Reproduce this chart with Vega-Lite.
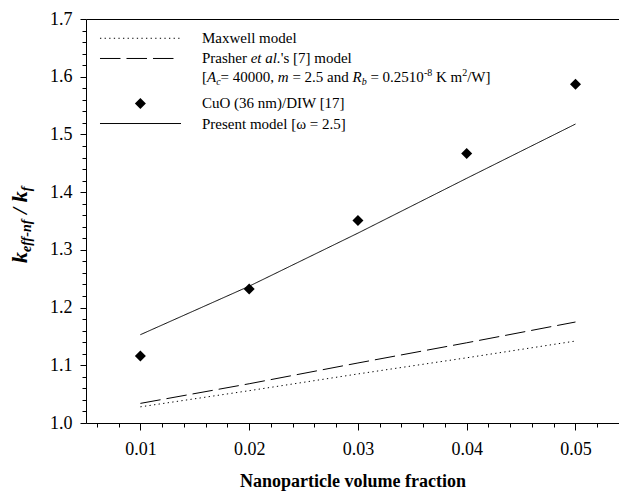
{
  "$schema": "https://vega.github.io/schema/vega-lite/v6.json",
  "width": 533,
  "height": 404,
  "autosize": "none",
  "padding": {"left": 86, "top": 19, "right": 0, "bottom": 70},
  "background": "white",
  "config": {
    "view": {"stroke": null},
    "axis": {
      "labelFont": "Liberation Serif",
      "titleFont": "Liberation Serif",
      "labelColor": "black",
      "titleColor": "black",
      "domainColor": "black",
      "tickColor": "black",
      "domainWidth": 1,
      "tickWidth": 1,
      "grid": false,
      "labelFlush": false,
      "labelOverlap": false
    },
    "text": {"font": "Liberation Serif", "color": "black"}
  },
  "datasets": {
    "curves": [
      {"model": "Maxwell", "x": 0.01, "y": 1.028},
      {"model": "Maxwell", "x": 0.02, "y": 1.056},
      {"model": "Maxwell", "x": 0.03, "y": 1.085},
      {"model": "Maxwell", "x": 0.04, "y": 1.113},
      {"model": "Maxwell", "x": 0.05, "y": 1.142},
      {"model": "Prasher", "x": 0.01, "y": 1.034},
      {"model": "Prasher", "x": 0.02, "y": 1.068},
      {"model": "Prasher", "x": 0.03, "y": 1.104},
      {"model": "Prasher", "x": 0.04, "y": 1.139},
      {"model": "Prasher", "x": 0.05, "y": 1.175},
      {"model": "Present", "x": 0.01, "y": 1.153},
      {"model": "Present", "x": 0.02, "y": 1.237},
      {"model": "Present", "x": 0.03, "y": 1.329},
      {"model": "Present", "x": 0.04, "y": 1.424},
      {"model": "Present", "x": 0.05, "y": 1.518}
    ],
    "points": [
      {"x": 0.01, "y": 1.116},
      {"x": 0.02, "y": 1.232},
      {"x": 0.03, "y": 1.351},
      {"x": 0.04, "y": 1.467},
      {"x": 0.05, "y": 1.587}
    ],
    "legendLines": [
      {"model": "Maxwell", "x": 0.006287, "y": 1.6666},
      {"model": "Maxwell", "x": 0.013734, "y": 1.6666},
      {"model": "Prasher", "x": 0.006287, "y": 1.6316},
      {"model": "Prasher", "x": 0.013182, "y": 1.6316},
      {"model": "Present", "x": 0.006287, "y": 1.5189},
      {"model": "Present", "x": 0.013734, "y": 1.5189}
    ],
    "legendPoint": [
      {"x": 0.01, "y": 1.5536}
    ],
    "textNormal": [
      {"t": "Maxwell model", "x": 0.015664, "y": 1.6666},
      {"t": "Prasher", "x": 0.015664, "y": 1.6316},
      {"t": "'s [7] model", "x": 0.022899, "y": 1.6316},
      {"t": "[", "x": 0.015664, "y": 1.5995},
      {"t": "= 40000,", "x": 0.017374, "y": 1.5995},
      {"t": "= 2.5 and", "x": 0.023975, "y": 1.5995},
      {"t": "= 0.2510", "x": 0.031146, "y": 1.5995},
      {"t": "K m", "x": 0.037176, "y": 1.5995},
      {"t": "/W]", "x": 0.040044, "y": 1.5995},
      {"t": "CuO (36 nm)/DIW [17]", "x": 0.015664, "y": 1.5536},
      {"t": "Present model [ω = 2.5]", "x": 0.015664, "y": 1.5189}
    ],
    "textItalic": [
      {"t": "et al.", "x": 0.020139, "y": 1.6316},
      {"t": "A", "x": 0.016124, "y": 1.5995},
      {"t": "m", "x": 0.022633, "y": 1.5995},
      {"t": "R", "x": 0.0295, "y": 1.5995}
    ],
    "textSub": [
      {"t": "c", "x": 0.01697, "y": 1.5995},
      {"t": "b", "x": 0.030346, "y": 1.5995}
    ],
    "textSup": [
      {"t": "-8", "x": 0.036064, "y": 1.5995},
      {"t": "2", "x": 0.039585, "y": 1.5995}
    ],
    "ytitleMain": [
      {"t": "k", "x": -0.000424, "y": 1.27723},
      {"t": "/", "x": -0.000424, "y": 1.3623},
      {"t": "k", "x": -0.000424, "y": 1.3824}
    ],
    "ytitleSub": [
      {"t": "eff-nf", "x": -0.000424, "y": 1.29629},
      {"t": "f", "x": -0.000424, "y": 1.40146}
    ]
  },
  "resolve": {"axis": {"x": "independent", "y": "independent"}},
  "layer": [
    {
      "data": {"name": "curves"},
      "mark": {"type": "line", "color": "black", "strokeWidth": 1},
      "encoding": {
        "x": {
          "field": "x", "type": "quantitative",
          "scale": {"domain": [0.005, 0.054], "nice": false, "zero": false},
          "axis": {
            "orient": "bottom",
            "values": [0.006, 0.008, 0.01, 0.012, 0.014, 0.016, 0.018, 0.02, 0.022, 0.024, 0.026, 0.028, 0.03, 0.032, 0.034, 0.036, 0.038, 0.04, 0.042, 0.044, 0.046, 0.048, 0.05, 0.052, 0.054],
            "tickCount": 200,
            "labelOverlap": false,
            "labelExpr": "abs(datum.value*100 - round(datum.value*100)) < 0.000001 ? format(datum.value, '.2f') : ''",
            "tickSize": {"condition": {"test": "abs(datum.value*100 - round(datum.value*100)) < 0.000001", "value": 7}, "value": 4},
            "labelPadding": 10,
            "labelFontSize": 18,
            "title": "Nanoparticle volume fraction",
            "titleFontSize": 18,
            "titleFontWeight": "bold",
            "titlePadding": 14
          }
        },
        "y": {
          "field": "y", "type": "quantitative",
          "scale": {"domain": [1.0, 1.7], "nice": false, "zero": false},
          "axis": {
            "orient": "left",
            "values": [1.0, 1.02, 1.04, 1.06, 1.08, 1.1, 1.12, 1.14, 1.16, 1.18, 1.2, 1.22, 1.24, 1.26, 1.28, 1.3, 1.32, 1.34, 1.36, 1.38, 1.4, 1.42, 1.44, 1.46, 1.48, 1.5, 1.52, 1.54, 1.56, 1.58, 1.6, 1.62, 1.64, 1.66, 1.68, 1.7],
            "tickCount": 200,
            "labelOverlap": false,
            "labelExpr": "abs(datum.value*10 - round(datum.value*10)) < 0.000001 ? format(datum.value, '.1f') : ''",
            "tickSize": {"condition": {"test": "abs(datum.value*10 - round(datum.value*10)) < 0.000001", "value": 6}, "value": 4},
            "labelPadding": 8,
            "labelFontSize": 18,
            "title": null
          }
        },
        "strokeDash": {
          "field": "model", "type": "nominal",
          "scale": {"domain": ["Maxwell", "Prasher", "Present"], "range": [[1.3, 3.3], [20.5, 6], [1, 0]]},
          "legend": null
        }
      }
    },
    {
      "data": {"name": "points"},
      "mark": {"type": "point", "shape": "diamond", "filled": true, "color": "black", "size": 121, "opacity": 1},
      "encoding": {
        "x": {"field": "x", "type": "quantitative", "scale": {"domain": [0.005, 0.054], "nice": false, "zero": false}, "axis": null},
        "y": {"field": "y", "type": "quantitative", "scale": {"domain": [1.0, 1.7], "nice": false, "zero": false}, "axis": null}
      }
    },
    {
      "data": {"name": "legendLines"},
      "mark": {"type": "line", "color": "black", "strokeWidth": 1},
      "encoding": {
        "x": {
          "field": "x", "type": "quantitative",
          "scale": {"domain": [0.005, 0.054], "nice": false, "zero": false},
          "axis": {"orient": "top", "ticks": false, "labels": false, "domain": true, "title": null}
        },
        "y": {
          "field": "y", "type": "quantitative",
          "scale": {"domain": [1.0, 1.7], "nice": false, "zero": false},
          "axis": null
        },
        "strokeDash": {
          "field": "model", "type": "nominal",
          "scale": {"domain": ["Maxwell", "Prasher", "Present"], "range": [[1.3, 3.3], [20.5, 6], [1, 0]]},
          "legend": null
        }
      }
    },
    {
      "data": {"name": "legendPoint"},
      "mark": {"type": "point", "shape": "diamond", "filled": true, "color": "black", "size": 121, "opacity": 1},
      "encoding": {
        "x": {"field": "x", "type": "quantitative", "scale": {"domain": [0.005, 0.054], "nice": false, "zero": false}, "axis": null},
        "y": {"field": "y", "type": "quantitative", "scale": {"domain": [1.0, 1.7], "nice": false, "zero": false}, "axis": null}
      }
    },
    {
      "data": {"name": "textNormal"},
      "mark": {"type": "text", "align": "left", "baseline": "middle", "fontSize": 15},
      "encoding": {
        "x": {"field": "x", "type": "quantitative", "scale": {"domain": [0.005, 0.054], "nice": false, "zero": false}, "axis": null},
        "y": {"field": "y", "type": "quantitative", "scale": {"domain": [1.0, 1.7], "nice": false, "zero": false}, "axis": null},
        "text": {"field": "t", "type": "nominal"}
      }
    },
    {
      "data": {"name": "textItalic"},
      "mark": {"type": "text", "align": "left", "baseline": "middle", "fontSize": 15, "fontStyle": "italic"},
      "encoding": {
        "x": {"field": "x", "type": "quantitative", "scale": {"domain": [0.005, 0.054], "nice": false, "zero": false}, "axis": null},
        "y": {"field": "y", "type": "quantitative", "scale": {"domain": [1.0, 1.7], "nice": false, "zero": false}, "axis": null},
        "text": {"field": "t", "type": "nominal"}
      }
    },
    {
      "data": {"name": "textSub"},
      "mark": {"type": "text", "align": "left", "baseline": "middle", "fontSize": 10, "fontStyle": "italic", "dy": 4.5},
      "encoding": {
        "x": {"field": "x", "type": "quantitative", "scale": {"domain": [0.005, 0.054], "nice": false, "zero": false}, "axis": null},
        "y": {"field": "y", "type": "quantitative", "scale": {"domain": [1.0, 1.7], "nice": false, "zero": false}, "axis": null},
        "text": {"field": "t", "type": "nominal"}
      }
    },
    {
      "data": {"name": "textSup"},
      "mark": {"type": "text", "align": "left", "baseline": "middle", "fontSize": 10, "dy": -4},
      "encoding": {
        "x": {"field": "x", "type": "quantitative", "scale": {"domain": [0.005, 0.054], "nice": false, "zero": false}, "axis": null},
        "y": {"field": "y", "type": "quantitative", "scale": {"domain": [1.0, 1.7], "nice": false, "zero": false}, "axis": null},
        "text": {"field": "t", "type": "nominal"}
      }
    },
    {
      "data": {"name": "ytitleMain"},
      "mark": {"type": "text", "align": "left", "baseline": "alphabetic", "angle": 270, "fontSize": 22, "fontWeight": "bold", "fontStyle": "italic"},
      "encoding": {
        "x": {"field": "x", "type": "quantitative", "scale": {"domain": [0.005, 0.054], "nice": false, "zero": false}, "axis": null},
        "y": {"field": "y", "type": "quantitative", "scale": {"domain": [1.0, 1.7], "nice": false, "zero": false}, "axis": null},
        "text": {"field": "t", "type": "nominal"}
      }
    },
    {
      "data": {"name": "ytitleSub"},
      "mark": {"type": "text", "align": "left", "baseline": "alphabetic", "angle": 270, "fontSize": 14, "fontWeight": "bold", "fontStyle": "italic", "dy": 4},
      "encoding": {
        "x": {"field": "x", "type": "quantitative", "scale": {"domain": [0.005, 0.054], "nice": false, "zero": false}, "axis": null},
        "y": {"field": "y", "type": "quantitative", "scale": {"domain": [1.0, 1.7], "nice": false, "zero": false}, "axis": null},
        "text": {"field": "t", "type": "nominal"}
      }
    }
  ]
}
